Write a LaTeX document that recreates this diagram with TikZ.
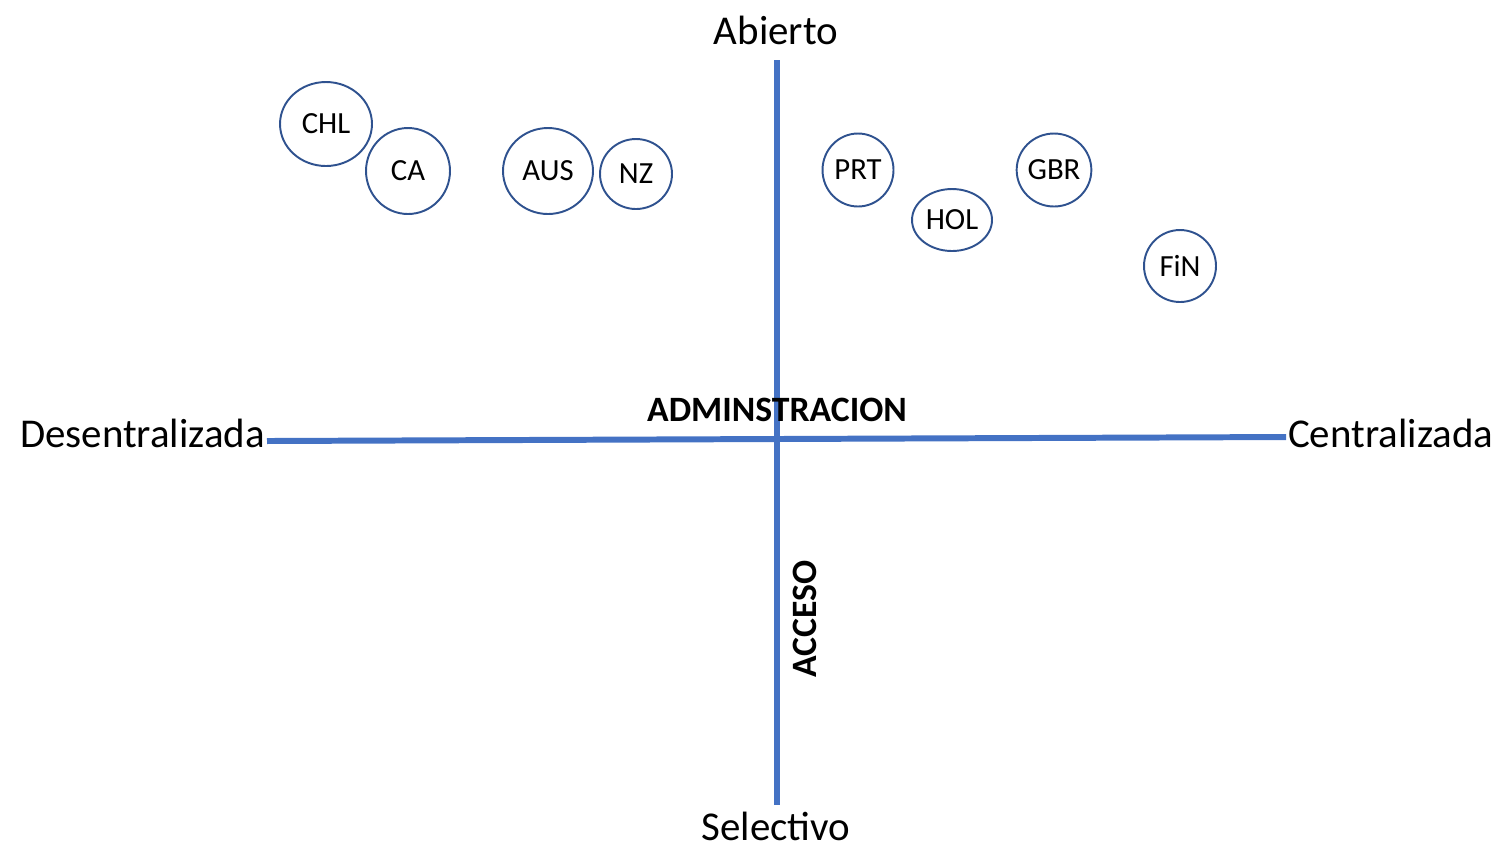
\documentclass[tikz,border=0pt]{standalone}
\usepackage{fontspec}
\setmainfont{Carlito}
\usepackage{tikz}
\usetikzlibrary{shapes,positioning}
\usepackage{xcolor}
\definecolor{axblue}{RGB}{68,114,196}
\definecolor{ringblue}{RGB}{47,82,143}
\tikzstyle{axis} = [line width=3.4pt,color=axblue]
\tikzstyle{poletext} = [inner sep=1pt, font=\fontsize{23.3}{28}\selectfont]
\tikzstyle{axistitle} = [inner sep=1pt, font=\fontsize{20.3}{24}\selectfont\bfseries]
\tikzstyle{country} = [ellipse, draw=ringblue, line width=1.1pt, inner sep=0pt, font=\fontsize{17.5}{20}\selectfont]

\begin{document}
\begin{tikzpicture}[x=0.02cm,y=-0.02cm]
\useasboundingbox (0,0) rectangle (1503,850);

% Poles
\node[poletext] (abierto) at (776,30) {Abierto};
\node[poletext] (selectivo) at (776,826) {Selectivo};
\node[poletext, anchor=east] (desc) at (267,433) {Desentralizada};
\node[poletext, anchor=west] (cent) at (1286,433) {Centralizada};

% Axes
\coordinate (vtop) at (777,60);
\coordinate (vbot) at (777,805);
\draw[axis] (desc.east |- 0,441) -- (cent.west |- 0,437);
\draw[axis] (vtop) -- (vbot);

% Axis titles
\node[axistitle] (admin) at (777,410) {ADMINSTRACION};
\node[axistitle, rotate=90] (acceso) at (805,619) {ACCESO};

% Countries
\node[country, minimum width=1.84cm, minimum height=1.68cm] (chl) at (326,124) {CHL};
\node[country, minimum width=1.68cm, minimum height=1.72cm] (ca) at (408,171) {CA};
\node[country, minimum width=1.80cm, minimum height=1.72cm] (aus) at (548,171) {AUS};
\node[country, minimum width=1.44cm, minimum height=1.40cm] (nz) at (636,174) {NZ};
\node[country, minimum width=1.42cm, minimum height=1.46cm] (prt) at (858,170) {PRT};
\node[country, minimum width=1.60cm, minimum height=1.24cm] (hol) at (952,220) {HOL};
\node[country, minimum width=1.42cm, minimum height=1.46cm] (gbr) at (1054,170) {GBR};
\node[country, minimum width=1.44cm, minimum height=1.44cm] (fin) at (1180,266) {FiN};
\end{tikzpicture}
\end{document}
